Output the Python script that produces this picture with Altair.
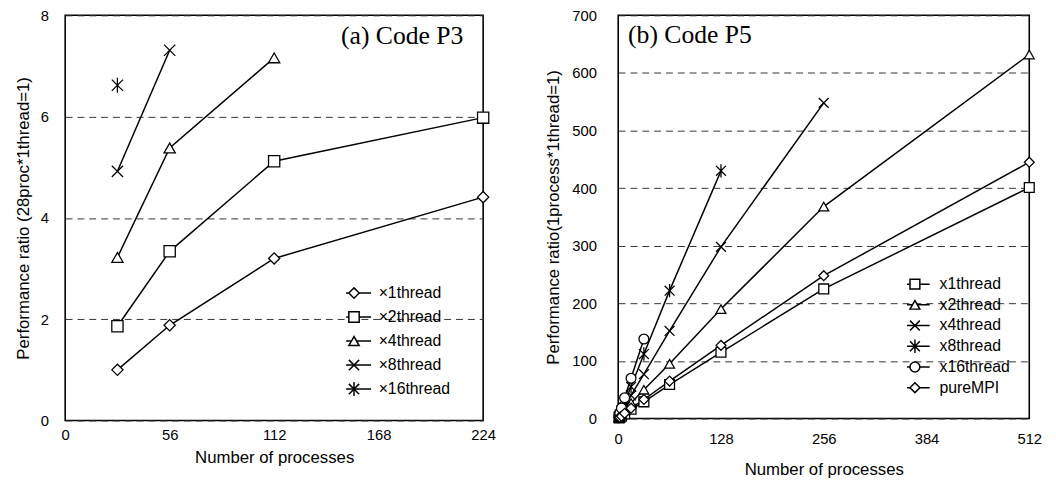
import altair as alt
import pandas as pd

# ---------------- Panel (a) Code P3 ----------------
a_procs = [28, 56, 112, 224]
a_names = ["×1thread", "×2thread", "×4thread", "×8thread", "×16thread"]
a_vals = [
    [1.00, 1.88, 3.20, 4.41],
    [1.86, 3.34, 5.12, 5.98],
    [3.22, 5.38, 7.16],
    [4.92, 7.31],
    [6.62],
]
a_title = ["(a) Code P3"]

# ---------------- Panel (b) Code P5 ----------------
b_procs = [1, 2, 4, 8, 16, 32, 64, 128, 256, 512]
b_names = ["x1thread", "x2thread", "x4thread", "x8thread", "x16thread", "pureMPI"]
b_vals = [
    [1, 2, 4, 8, 16, 29, 59, 115, 225, 401],
    [2, 3, 7, 14, 27, 50, 95, 190, 368, 632],
    [3, 5, 10, 20, 40, 77, 152, 298, 548],
    [4, 7, 14, 28, 55, 112, 222, 430],
    [4, 9, 18, 36, 70, 138],
    [1, 2, 4, 9, 18, 33, 65, 127, 248, 445],
]
b_title = ["(b) Code P5"]

X_PATH = "M-1,-1L1,1M-1,1L1,-1"
AST_PATH = "M-1,-1L1,1M-1,1L1,-1M0,-1.35L0,1.35"
a_shapes = ["diamond", "square", "triangle-up", X_PATH, AST_PATH]
b_shapes = ["square", "triangle-up", X_PATH, AST_PATH, "circle", "diamond"]

SANS = "Liberation Sans"
SERIF = "Liberation Serif"
CLIP_H = 16


def long_df(procs, names, vals):
    rows = []
    for i, (n, v) in enumerate(zip(names, vals)):
        for p, y in zip(procs, v):
            rows.append({"procs": p, "ratio": y, "series": n, "key": f"k{i}"})
    return pd.DataFrame(rows)


def panel(df, names, shapes, title, xdom, xvals, ydom, yvals, ytitle,
          w, h, pt_size, sym_size, line_half, lx, ly, row_pad, lab_off,
          ylabpad, ytitlepad, xlabpad, xtitlepad, tx, ty, talign):
    keys = [f"k{i}" for i in range(len(names))]
    xenc = alt.X("procs:Q", scale=alt.Scale(domain=xdom, nice=False, zero=True),
                 axis=alt.Axis(values=xvals, title="Number of processes", grid=False,
                               domain=False, ticks=False, labelPadding=xlabpad,
                               titlePadding=xtitlepad, labelFlush=False))
    yenc = alt.Y("ratio:Q", scale=alt.Scale(domain=ydom, nice=False),
                 axis=alt.Axis(values=yvals, title=ytitle, grid=True, gridDash=[7, 5],
                               gridColor="#333333", gridWidth=1, domain=False, ticks=False,
                               labelPadding=ylabpad, titlePadding=ytitlepad, labelFlush=False))
    base = alt.Chart(df)
    # line legend (draws the line segment and the labels)
    lines = base.mark_line(strokeWidth=1.5).encode(
        x=xenc, y=yenc,
        stroke=alt.Stroke("series:N",
                          scale=alt.Scale(domain=names, range=["black"] * len(names)),
                          legend=alt.Legend(title=None, orient="none", legendX=lx, legendY=ly,
                                            symbolType=f"M-{line_half},0L{line_half},0",
                                            symbolSize=sym_size, symbolStrokeWidth=1.5,
                                            clipHeight=CLIP_H,
                                            rowPadding=row_pad, labelOffset=lab_off,
                                            padding=0, labelFont=SANS, labelFontSize=16,
                                            labelColor="black")),
    )
    # marker legend drawn on top of the line legend, labels left empty
    pts = base.mark_point(filled=False, fill="white", fillOpacity=1, stroke="black",
                          strokeWidth=1.3, opacity=1, size=pt_size).encode(
        x="procs:Q", y="ratio:Q",
        shape=alt.Shape("key:N", scale=alt.Scale(domain=keys, range=shapes),
                        legend=alt.Legend(title=None, orient="none", legendX=lx, legendY=ly,
                                          symbolSize=sym_size, symbolStrokeWidth=1.5,
                                          symbolOpacity=1, clipHeight=CLIP_H,
                                          rowPadding=row_pad, labelOffset=lab_off,
                                          padding=0, labelFont=SANS, labelFontSize=16,
                                          labelExpr="''")),
    )
    txt = alt.Chart(pd.DataFrame({"t": title})).mark_text(
        font=SERIF, fontSize=26, align=talign, baseline="alphabetic", color="black"
    ).encode(text="t:N", x=alt.value(tx), y=alt.value(ty))
    return alt.layer(lines, pts, txt).resolve_scale(stroke="independent", shape="independent") \
        .resolve_legend(stroke="independent", shape="independent").properties(width=w, height=h)


dfa = long_df(a_procs, a_names, a_vals)
dfb = long_df(b_procs, b_names, b_vals)

left = panel(dfa, a_names, a_shapes, a_title, [0, 224], [0, 56, 112, 168, 224], [0, 8],
             [0, 2, 4, 6, 8], "Performance ratio (28proc*1thread=1)",
             424, 411, 130, 110, 3.3, 285, 273.7, 8.35, 17,
             17, 8, 7, 8, 404, 29, "right")
right = panel(dfb, b_names, b_shapes, b_title, [0, 512], [0, 128, 256, 384, 512], [0, 700],
              [0, 100, 200, 300, 400, 500, 600, 700], "Performance ratio(1process*1thread=1)",
              417, 409, 100, 100, 3.0, 293, 264.7, 5, 17,
              22, 10, 13, 16, 10, 28, "left")

chart = alt.hconcat(left, right, spacing=47).resolve_scale(
    x="independent", y="independent", stroke="independent", shape="independent"
).resolve_legend(stroke="independent", shape="independent").configure_view(
    stroke="black", strokeWidth=1.6
).configure_axis(
    labelFont=SANS, labelFontSize=15, labelColor="black",
    titleFont=SANS, titleFontSize=17, titleFontWeight="normal", titleColor="black"
).properties(padding={"left": 5, "top": -4, "right": 5, "bottom": 3}, background="white")

chart.save("out.html", embed_options={"renderer": "svg", "actions": False})
